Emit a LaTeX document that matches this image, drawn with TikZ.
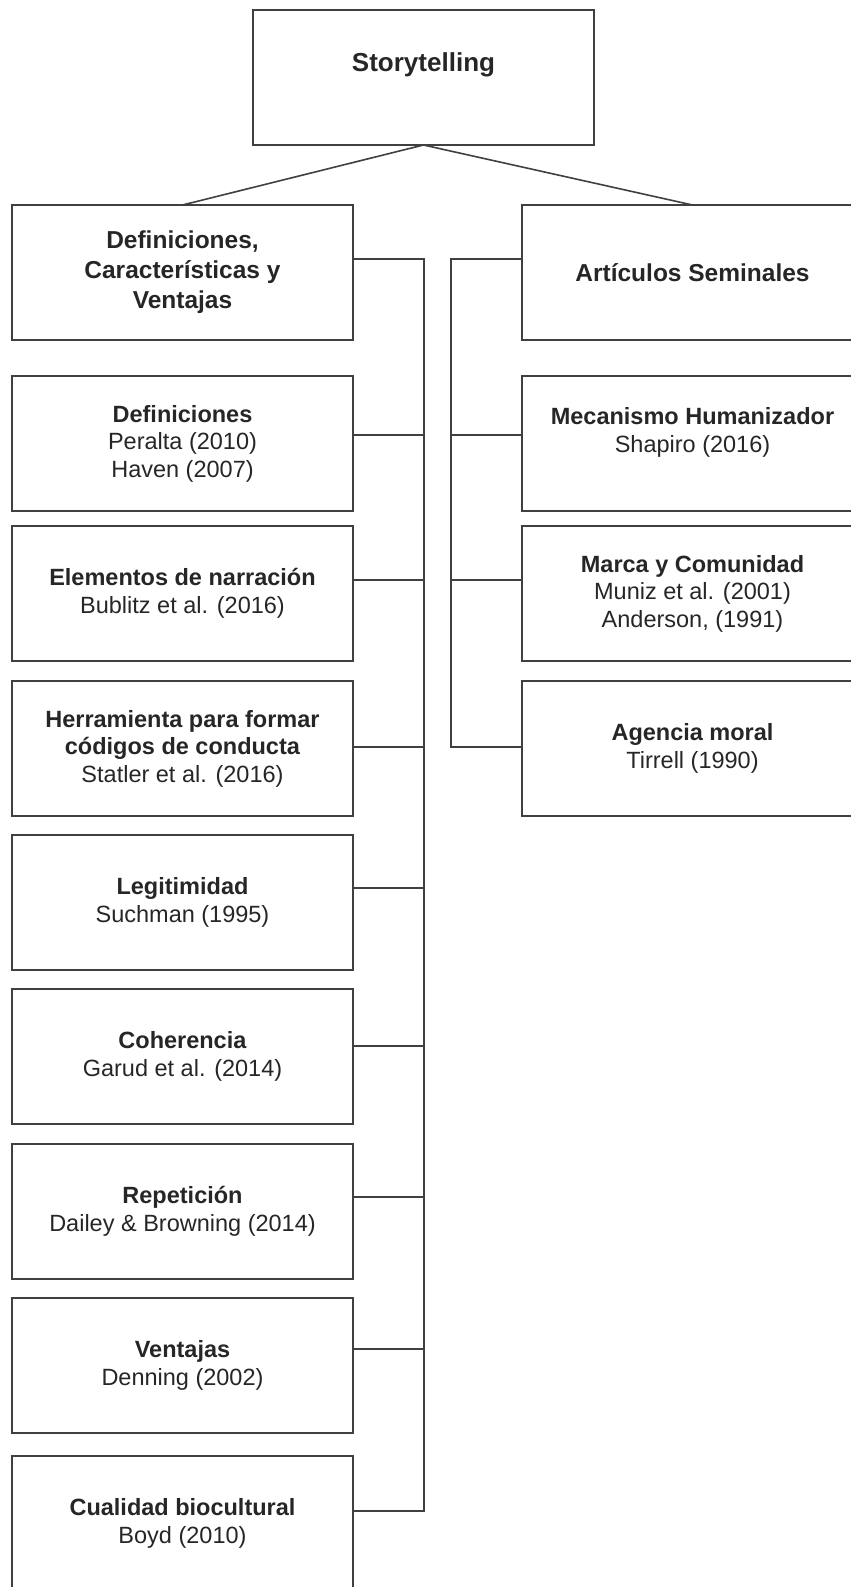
\documentclass[tikz,border=0pt]{standalone}
\usepackage{fontspec}
\setmainfont{Liberation Sans}
\usetikzlibrary{positioning, calc}

\begin{document}
\begin{tikzpicture}[
    x=1pt, y=-1pt,
    node distance=19pt and 169pt,
    every node/.style={font=\fontsize{23.5}{27.5}\selectfont, text=black!85},
    box/.style={draw=black!75, line width=1.6pt, minimum width=341pt, minimum height=135pt, inner sep=0pt, outer sep=0pt, align=center},
    head/.style={box, font=\fontsize{24.5}{30}\selectfont\bfseries},
    link/.style={draw=black!75, line width=1.6pt, line cap=rect}
  ]
  \useasboundingbox (0,0) rectangle (851,1587);

  \node[head, font=\fontsize{26}{30}\selectfont\bfseries] (story) at (423.5,77.5) {Storytelling\\\mbox{}};
  \node[head] (defs) at (182.5,272.5) {Definiciones,\\Características y\\Ventajas};
  \node[head, right=of defs] (arts) {Artículos Seminales};

  % left column
  \node[box, below=36pt of defs] (def) {\textbf{Definiciones}\\Peralta (2010)\\Haven (2007)};
  \node[box, below=15pt of def]  (ele) {\textbf{Elementos de narración}\\Bublitz et al. (2016)};
  \node[box, below=20pt of ele]  (her) {\textbf{Herramienta para formar}\\\textbf{códigos de conducta}\\Statler et al. (2016)};
  \node[box, below=of her]       (leg) {\textbf{Legitimidad}\\Suchman (1995)};
  \node[box, below=of leg]       (coh) {\textbf{Coherencia}\\Garud et al. (2014)};
  \node[box, below=20pt of coh]  (rep) {\textbf{Repetición}\\Dailey \& Browning (2014)};
  \node[box, below=of rep]       (ven) {\textbf{Ventajas}\\Denning (2002)};
  \node[box, below=23pt of ven]  (cua) {\textbf{Cualidad biocultural}\\Boyd (2010)};

  % right column
  \node[box, right=of def] (mec) {\textbf{Mecanismo Humanizador}\\Shapiro (2016)\\\mbox{}};
  \node[box, right=of ele] (mar) {\textbf{Marca y Comunidad}\\Muniz et al. (2001)\\Anderson, (1991)};
  \node[box, right=of her] (age) {\textbf{Agencia moral}\\Tirrell (1990)};

  \draw[link] (story.south) -- (defs.north);
  \draw[link] (story.south) -- (arts.north);

  \coordinate (busL) at (424,0);
  \coordinate (busR) at (451,0);

  \foreach \b/\dy in {def/59, ele/54, her/66, leg/53, coh/57, rep/53, ven/51, cua/55}
    \draw[link] ([yshift=-\dy pt]\b.north east) coordinate (\b-c) -- (\b-c -| busL);
  \draw[link] ([yshift=-54pt]defs.north east) coordinate (defs-c) -- (defs-c -| busL) -- (cua-c -| busL);

  \foreach \b/\dy in {mec/59, mar/54, age/66}
    \draw[link] ([yshift=-\dy pt]\b.north west) coordinate (\b-c) -- (\b-c -| busR);
  \draw[link] ([yshift=-54pt]arts.north west) coordinate (arts-c) -- (arts-c -| busR) -- (age-c -| busR);
\end{tikzpicture}
\end{document}
